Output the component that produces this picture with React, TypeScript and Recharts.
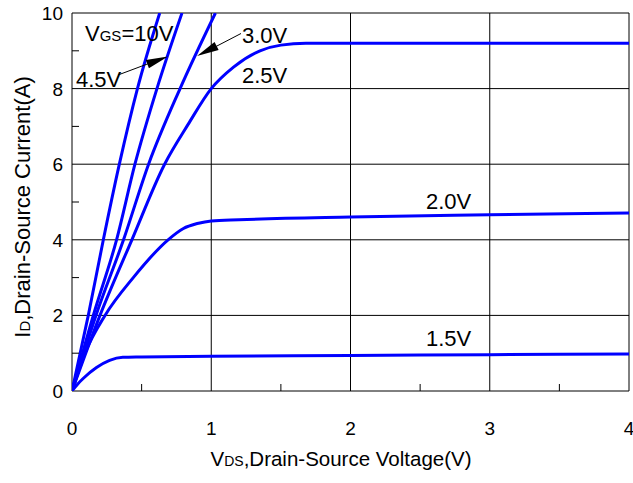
import React from 'react';
import { LineChart, Line, XAxis, YAxis, CartesianGrid } from 'recharts';

// Output characteristics, I_D (A) vs V_DS (V), one array per V_GS
const vgs10V = [
  { v: 0, i: 0 }, { v: 0.117, i: 2 }, { v: 0.225, i: 4 }, { v: 0.34, i: 6 },
  { v: 0.47, i: 8 }, { v: 0.63, i: 10 },
];
const vgs4_5V = [
  { v: 0, i: 0 }, { v: 0.153, i: 2 }, { v: 0.32, i: 4 }, { v: 0.452, i: 6 },
  { v: 0.61, i: 8 }, { v: 0.79, i: 10 },
];
const vgs3_0V = [
  { v: 0, i: 0 }, { v: 0.172, i: 2 }, { v: 0.37, i: 4 }, { v: 0.55, i: 6 },
  { v: 0.776, i: 8 }, { v: 1.03, i: 10 },
];
const vgs2_5V = [
  { v: 0, i: 0 }, { v: 0.201, i: 2 }, { v: 0.43, i: 4 }, { v: 0.665, i: 6 },
  { v: 0.835, i: 7.06 }, { v: 1.0, i: 8 }, { v: 1.16, i: 8.57 }, { v: 1.35, i: 9.0 },
  { v: 1.5, i: 9.15 }, { v: 1.68, i: 9.2 }, { v: 4, i: 9.2 },
];
const vgs2_0V = [
  { v: 0, i: 0 }, { v: 0.093, i: 1 }, { v: 0.237, i: 2 }, { v: 0.44, i: 3 },
  { v: 0.69, i: 4 }, { v: 0.8, i: 4.3 }, { v: 0.9, i: 4.43 }, { v: 1.0, i: 4.5 },
  { v: 1.2, i: 4.53 }, { v: 2, i: 4.6 }, { v: 3, i: 4.66 }, { v: 4, i: 4.71 },
];
const vgs1_5V = [
  { v: 0, i: 0 }, { v: 0.04, i: 0.18 }, { v: 0.08, i: 0.33 }, { v: 0.176, i: 0.62 },
  { v: 0.27, i: 0.81 }, { v: 0.365, i: 0.89 }, { v: 0.5, i: 0.9 }, { v: 1, i: 0.92 },
  { v: 2, i: 0.94 }, { v: 3, i: 0.96 }, { v: 4, i: 0.98 },
];

const series = [vgs10V, vgs4_5V, vgs3_0V, vgs2_5V, vgs2_0V, vgs1_5V];

const xTicks = [0, 0.5, 1, 1.5, 2, 2.5, 3, 3.5, 4];
const yTicks = [0, 1, 2, 3, 4, 5, 6, 7, 8, 9, 10];
const xGrid = [0, 1, 2, 3, 4];
const yGrid = [0, 2, 4, 6, 8, 10];

const FONT = '"Liberation Sans", Arial, sans-serif';
const BLUE = '#0000ff';

const XTick = ({ x, y, payload }: any) => {
  const major = Number.isInteger(payload.value);
  return (
    <g>
      {major ? (
        <text x={x} y={y + 44} textAnchor="middle" fontSize={19} fill="#000" fontFamily={FONT}>
          {payload.value}
        </text>
      ) : (
        <line x1={x} y1={y} x2={x} y2={y - 7} stroke="#000" strokeWidth={1} />
      )}
    </g>
  );
};

const YTick = ({ x, y, payload }: any) => {
  const major = payload.value % 2 === 0;
  return (
    <g>
      {major ? (
        <text x={x - 9} y={y + 7} textAnchor="end" fontSize={19} fill="#000" fontFamily={FONT}>
          {payload.value}
        </text>
      ) : (
        <line x1={x} y1={y} x2={x + 7} y2={y} stroke="#000" strokeWidth={1} />
      )}
    </g>
  );
};

// filled arrow head pointing at (x2, y2)
function arrowHead(x1: number, y1: number, x2: number, y2: number, len = 22, half = 4.5) {
  const dx = x2 - x1;
  const dy = y2 - y1;
  const d = Math.hypot(dx, dy);
  const ux = dx / d;
  const uy = dy / d;
  const bx = x2 - ux * len;
  const by = y2 - uy * len;
  return `${x2},${y2} ${bx - uy * half},${by + ux * half} ${bx + uy * half},${by - ux * half}`;
}

export default function App() {
  return (
    <div style={{ position: 'absolute', left: 0, top: 0, width: 633, height: 483, background: '#fff', fontFamily: FONT }}>
      <LineChart width={633} height={483} margin={{ top: 13, right: 4, bottom: 32, left: 12 }}>
        <CartesianGrid
          stroke="#000"
          strokeWidth={1}
          horizontalValues={yGrid}
          verticalValues={xGrid}
        />
        <XAxis
          dataKey="v"
          type="number"
          domain={[0, 4]}
          ticks={xTicks}
          interval={0}
          allowDataOverflow
          axisLine={false}
          tickLine={false}
          tickSize={0}
          tickMargin={0}
          height={60}
          tick={<XTick />}
        />
        <YAxis
          dataKey="i"
          type="number"
          domain={[0, 10]}
          ticks={yTicks}
          interval={0}
          allowDataOverflow
          axisLine={false}
          tickLine={false}
          tickSize={0}
          tickMargin={0}
          width={60}
          tick={<YTick />}
        />
        {series.map((d, idx) => (
          <Line
            key={idx}
            data={d}
            dataKey="i"
            type="monotone"
            stroke={BLUE}
            strokeWidth={3}
            dot={false}
            isAnimationActive={false}
          />
        ))}
      </LineChart>
      <svg
        width={633}
        height={483}
        style={{ position: 'absolute', left: 0, top: 0, pointerEvents: 'none' }}
        fontFamily={FONT}
      >
        <text x={85} y={41} fontSize={22}>
          V<tspan fontSize={15}>GS</tspan>=10V
        </text>
        <text x={76} y={87} fontSize={22}>4.5V</text>
        <line x1={118} y1={75} x2={150} y2={63} stroke="#000" strokeWidth={1} />
        <polygon points={arrowHead(118, 75, 168, 56.5)} fill="#000" />
        <text x={242} y={43} fontSize={22}>3.0V</text>
        <line x1={241} y1={33.5} x2={215} y2={47} stroke="#000" strokeWidth={1} />
        <polygon points={arrowHead(241, 33.5, 197, 56)} fill="#000" />
        <text x={242} y={83} fontSize={22}>2.5V</text>
        <text x={426} y={209} fontSize={22}>2.0V</text>
        <text x={426} y={346} fontSize={22}>1.5V</text>
        <text x={341} y={466} fontSize={20.5} textAnchor="middle">
          V<tspan fontSize={14}>DS</tspan>,Drain-Source Voltage(V)
        </text>
        <text x={30} y={207} fontSize={22} textAnchor="middle" transform="rotate(-90 30 207)">
          I<tspan fontSize={15}>D</tspan>,Drain-Source Current(A)
        </text>
      </svg>
    </div>
  );
}
